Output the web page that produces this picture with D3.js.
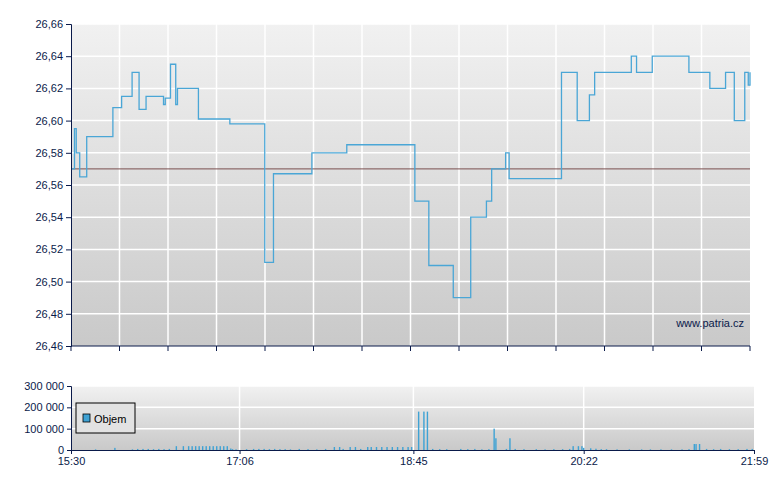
<!DOCTYPE html>
<html><head><meta charset="utf-8">
<script src="https://cdn.jsdelivr.net/npm/d3@7"></script>
<style>body{margin:0;background:#fff}text{font-family:"Liberation Sans",Arial,sans-serif}</style>
</head><body>
<script>
// price series (step), times from 15:30
var priceTimes = ["15:30","15:32","15:33","15:35","15:39","15:54","15:59","16:05","16:09","16:13","16:23","16:24","16:27","16:30","16:31","16:43","17:01","17:21","17:26","17:48","18:08","18:47","18:55","19:09","19:19","19:28","19:31","19:39","19:41","20:11","20:20","20:27","20:30","20:51","20:54","20:58","21:03","21:24","21:36","21:45","21:50","21:56","21:58","21:59"];
var priceValues = [26.57,26.595,26.58,26.565,26.59,26.608,26.615,26.63,26.607,26.615,26.61,26.614,26.635,26.61,26.62,26.601,26.598,26.512,26.567,26.58,26.585,26.55,26.51,26.49,26.54,26.55,26.57,26.58,26.564,26.63,26.6,26.616,26.63,26.64,26.63,26.63,26.64,26.63,26.62,26.63,26.6,26.63,26.622,26.63];
var refPrice = 26.57;
var priceTicks = [26.46,26.48,26.50,26.52,26.54,26.56,26.58,26.60,26.62,26.64,26.66];

var volTimes = ["15:44","15:55","16:05","16:08","16:11","16:14","16:17","16:20","16:23","16:26","16:30","16:34","16:37","16:39","16:41","16:43","16:45","16:47","16:49","16:51","16:53","16:55","16:57","16:59","17:01","17:02","17:04","17:10","17:14","17:17","17:20","17:23","17:26","17:29","17:32","17:35","17:40","17:45","17:50","17:55","18:00","18:03","18:05","18:09","18:12","18:15","18:19","18:21","18:24","18:27","18:30","18:33","18:36","18:39","18:42","18:44","18:48","18:51","18:53","18:56","19:00","19:04","19:12","19:16","19:20","19:24","19:28","19:31","19:32","19:38","19:40","19:43","19:48","19:55","20:00","20:05","20:10","20:14","20:16","20:19","20:21","20:22","20:26","20:29","20:32","20:35","20:41","20:48","20:55","21:00","21:06","21:12","21:18","21:22","21:25","21:26","21:28","21:32","21:36","21:40","21:45","21:50","21:55","21:58"];
var volValues = [3000,10000,3000,5000,5000,5000,4000,5000,4000,5000,18000,18000,18000,18000,18000,18000,18000,18000,18000,18000,18000,18000,18000,18000,7000,4000,3000,4000,5000,5000,5000,4000,5000,4000,4000,3000,5000,4000,3000,5000,14000,14000,5000,14000,14000,5000,14000,14000,14000,14000,14000,14000,14000,14000,14000,14000,180000,180000,180000,5000,4000,4000,5000,4000,5000,3000,4000,100000,55000,5000,55000,5000,4000,4000,3000,4000,4000,5000,18000,18000,18000,10000,8000,6000,4000,4000,3000,3000,3000,3000,3000,3000,3000,4000,28000,28000,28000,5000,4000,5000,4000,4000,5000,5000];
var volTicks = [0,100000,200000,300000];
var volTimeTicks = ["15:30","17:06","18:45","20:22","21:59"];

var W = 780, H = 490, navy = "#0a1a4a";
var parse = d3.timeParse("%H:%M");
var t0 = parse("15:30"), t1 = parse("21:59");

var svg = d3.select("body").append("svg").attr("width", W).attr("height", H);
var defs = svg.append("defs");
var grad = defs.append("linearGradient").attr("id","bg").attr("x1",0).attr("y1",0).attr("x2",0).attr("y2",1);
grad.append("stop").attr("offset","0%").attr("stop-color","#f1f1f1");
grad.append("stop").attr("offset","100%").attr("stop-color","#c9c9c9");

var fmtC = function(d){ return d3.format(".2f")(d).replace(".", ","); };
var fmtV = function(d){ return d3.format(",")(d).replace(/,/g, " "); };

// main panel
var mx = d3.scaleTime().domain([t0, t1]).range([71, 750]);
var my = d3.scaleLinear().domain([26.46, 26.66]).range([346, 24]);
svg.append("rect").attr("x",71).attr("y",24).attr("width",679).attr("height",322).attr("fill","url(#bg)");
var mgX = d3.range(1,14).map(function(i){ return 71 + i*679/14; });
svg.append("g").selectAll("line").data(mgX).enter().append("line")
  .attr("x1",function(d){return d;}).attr("x2",function(d){return d;})
  .attr("y1",24).attr("y2",346).attr("stroke","#fff").attr("stroke-width",1.5);
svg.append("g").selectAll("line").data(priceTicks.slice(1)).enter().append("line")
  .attr("x1",71).attr("x2",750).attr("y1",function(d){return my(d);}).attr("y2",function(d){return my(d);})
  .attr("stroke","#fff").attr("stroke-width",1.5);
svg.append("line").attr("x1",71).attr("x2",750).attr("y1",my(refPrice)).attr("y2",my(refPrice))
  .attr("stroke","#7a5050").attr("stroke-width",1);
var line = d3.line().curve(d3.curveStepAfter)
  .x(function(d){return mx(parse(d[0]));}).y(function(d){return my(d[1]);});
svg.append("path").datum(d3.zip(priceTimes, priceValues)).attr("d", line)
  .attr("fill","none").attr("stroke","#4aa6d6").attr("stroke-width",1.3);
var ya = svg.append("g").attr("transform","translate(71,0)")
  .call(d3.axisLeft(my).tickValues(priceTicks).tickFormat(fmtC).tickSize(5));
ya.selectAll("text").attr("fill",navy).attr("font-size",11);
ya.selectAll("line,path").attr("stroke",navy);
var xa = svg.append("g").attr("transform","translate(0,346)");
xa.append("line").attr("x1",71).attr("x2",750).attr("stroke",navy);
xa.selectAll(".t").data([71].concat(mgX,[750])).enter().append("line")
  .attr("x1",function(d){return d;}).attr("x2",function(d){return d;}).attr("y1",0).attr("y2",5).attr("stroke",navy);
svg.append("text").attr("x",744).attr("y",327).attr("text-anchor","end").attr("font-size",11).attr("fill",navy).text("www.patria.cz");

// volume panel
var vx = d3.scaleTime().domain([t0, t1]).range([71, 754]);
var vy = d3.scaleLinear().domain([0, 300000]).range([450, 386]);
svg.append("rect").attr("x",71).attr("y",386).attr("width",683).attr("height",64).attr("fill","url(#bg)");
svg.append("g").selectAll("line").data(volTimeTicks.slice(1,4)).enter().append("line")
  .attr("x1",function(d){return vx(parse(d));}).attr("x2",function(d){return vx(parse(d));})
  .attr("y1",386).attr("y2",450).attr("stroke","#fff").attr("stroke-width",1.5);
svg.append("g").selectAll("line").data(volTicks.slice(1)).enter().append("line")
  .attr("x1",71).attr("x2",754).attr("y1",function(d){return vy(d);}).attr("y2",function(d){return vy(d);})
  .attr("stroke","#fff").attr("stroke-width",1.5);
svg.append("g").selectAll("rect").data(d3.zip(volTimes, volValues)).enter().append("rect")
  .attr("x",function(d){return vx(parse(d[0])) - 0.7;}).attr("width",1.4)
  .attr("y",function(d){return vy(d[1]);}).attr("height",function(d){return 450 - vy(d[1]);})
  .attr("fill","#3fa2d4");
var vya = svg.append("g").attr("transform","translate(71,0)")
  .call(d3.axisLeft(vy).tickValues(volTicks).tickFormat(fmtV).tickSize(4));
vya.selectAll("text").attr("fill",navy).attr("font-size",11);
vya.selectAll("line,path").attr("stroke",navy);
var vxa = svg.append("g").attr("transform","translate(0,450)")
  .call(d3.axisBottom(vx).tickValues(volTimeTicks.map(parse)).tickFormat(d3.timeFormat("%H:%M")).tickSize(4));
vxa.selectAll("text").attr("fill",navy).attr("font-size",11);
vxa.selectAll("line,path").attr("stroke",navy);

// legend
var lg = svg.append("g").attr("transform","translate(76,403)");
lg.append("rect").attr("width",59).attr("height",30).attr("fill","#e2e2e2").attr("stroke","#000");
lg.append("rect").attr("x",7).attr("y",11).attr("width",7).attr("height",8).attr("fill","#3fa2d4").attr("stroke","#000").attr("stroke-width",0.8);
lg.append("text").attr("x",18).attr("y",19.5).attr("font-size",11).attr("fill","#000").text("Objem");
</script>
</body></html>
